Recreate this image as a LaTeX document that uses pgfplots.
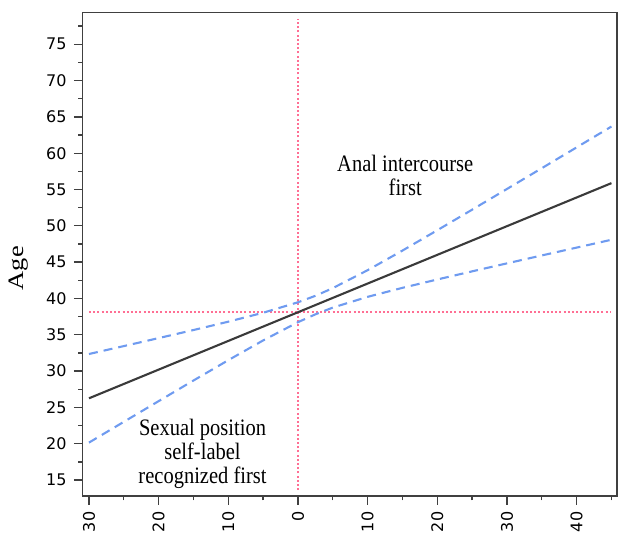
\documentclass[border=0pt]{standalone}
\usepackage{fontspec}
\setmainfont{Liberation Serif}
\newfontfamily\tickfont{DejaVu Sans}
\usepackage{graphicx}
\usepackage{pgfplots}
\pgfplotsset{compat=1.18}
\definecolor{fitline}{HTML}{3A3A3A}
\definecolor{ciblue}{HTML}{6F9BF0}
\definecolor{refpink}{HTML}{FF6F94}
\definecolor{framec}{HTML}{404040}
\begin{document}
\begin{tikzpicture}
\useasboundingbox (-82.7pt,-38pt) rectangle (536.3pt,496pt);
\begin{axis}[
  at={(0,0)}, anchor=south west,
  scale only axis, width=534.3pt, height=483.7pt,
  xmin=-30.9, xmax=45.8, ymin=12.8, ymax=79.4,
  axis line style={draw=framec, line width=1.4pt},
  tick align=outside, xtick pos=bottom, ytick pos=left,
  major tick length=8.7pt, minor tick length=4.5pt,
  every tick/.style={framec, line width=1.3pt},
  xtick={-30,-20,-10,0,10,20,30,40},
  xticklabels={30,20,10,0,10,20,30,40},
  minor xtick={-25,-15,-5,5,15,25,35,45},
  ytick={15,20,25,30,35,40,45,50,55,60,65,70,75},
  yticklabels={15,20,25,30,35,40,45,50,55,60,65,70,75},
  minor ytick={17.5,22.5,27.5,32.5,37.5,42.5,47.5,52.5,57.5,62.5,67.5,72.5,77.5},
  /pgf/number format/assume math mode=true,
  ticklabel style={font=\tickfont\fontsize{16}{18}\selectfont},
  xticklabel style={rotate=90, anchor=east},
  xticklabel shift=3.5pt,
  yticklabel shift=4pt,
  clip=false,
]
% reference lines
\addplot[draw=refpink, line width=2.2pt, dash pattern=on 2pt off 2.2pt] coordinates {(-30,38.1) (45,38.1)};
\addplot[draw=refpink, line width=2.2pt, dash pattern=on 2pt off 2.2pt] coordinates {(0,13.6) (0,78.5)};
% confidence bands
\addplot[draw=ciblue, line width=2.1pt, dash pattern=on 9pt off 6pt] coordinates {
(-30,32.35) (-25,33.44) (-20,34.54) (-15,35.65) (-10,36.80) (-5,38.03) (0,39.47) (2.5,40.36) (5,41.42) (10,43.89) (15,46.59) (20,49.39) (25,52.22) (30,55.07) (35,57.93) (40,60.80) (45,63.67)};
\addplot[draw=ciblue, line width=2.1pt, dash pattern=on 9pt off 6pt] coordinates {
(-30,20.15) (-25,23.01) (-20,25.86) (-15,28.70) (-10,31.50) (-5,34.22) (0,36.73) (2.5,37.81) (5,38.74) (10,40.22) (15,41.46) (20,42.61) (25,43.73) (30,44.83) (35,45.92) (40,47.00) (45,48.08)};
% fitted line
\addplot[draw=fitline, line width=2.1pt] coordinates {(-30,26.25) (45,55.875)};
% annotations
\node[anchor=north, inner sep=0pt, font=\fontsize{20.5}{20.9}\selectfont] at (axis cs:15.4,59.84)
  {\scalebox{1}[1.15]{\begin{tabular}{@{}c@{}}Anal intercourse\\first\end{tabular}}};
\node[anchor=north, inner sep=0pt, font=\fontsize{20.5}{20.9}\selectfont] at (axis cs:-13.7,23.5)
  {\scalebox{1}[1.15]{\begin{tabular}{@{}c@{}}Sexual position\\self-label\\recognized first\end{tabular}}};
\node[rotate=90, inner sep=0pt, font=\fontsize{22}{26}\selectfont] at ([xshift=-64.5pt]rel axis cs:0,0.471) {\scalebox{1.2}[1]{Age}};
\end{axis}
\end{tikzpicture}
\end{document}
